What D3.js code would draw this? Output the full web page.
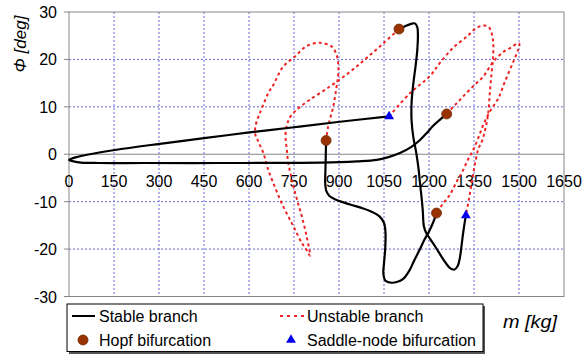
<!DOCTYPE html>
<html>
<head>
<meta charset="utf-8">
<script src="https://cdn.jsdelivr.net/npm/d3@7"></script>
<style>
  html, body { margin: 0; padding: 0; background: #fff; }
  svg { display: block; font-family: "Liberation Sans", Arial, sans-serif; }
</style>
</head>
<body>
<svg id="chart" width="584" height="356"></svg>
<script>
// Tick values
const xTicks = [0, 150, 300, 450, 600, 750, 900, 1050, 1200, 1350, 1500, 1650];
const yTicks = [-30, -20, -10, 0, 10, 20, 30];

// Stable branches [m, phi]
const stableNose = [
  [1259, 8.5], [1235, 7.2], [1214, 6.0], [1190, 4.3], [1170, 3.0], [1140, 1.5],
  [1103, 0.25], [1065, -0.6], [1026, -1.2], [960, -1.5], [903, -1.65], [750, -1.8],
  [500, -1.85], [250, -1.85], [100, -1.85], [40, -1.75], [15, -1.5], [0, -1.2],
  [8, -0.95], [25, -0.6], [60, -0.1], [153, 0.9], [303, 2.2], [450, 3.4],
  [601, 4.6], [750, 5.7], [903, 6.85], [1067, 8.0]
];
const stableLower = [
  [857, 2.9], [856, 0], [855, -3], [854, -6], [858, -7.8], [868, -8.8], [890, -9.6],
  [937, -10.6], [975, -11.3], [1005, -12], [1035, -13.1], [1050, -14.5], [1055, -16.5],
  [1054, -20], [1050, -23], [1048, -25.2], [1055, -26.7], [1075, -27.1], [1095, -26.9],
  [1114, -26.3], [1135, -24.5], [1150, -22.5], [1170, -20], [1185, -18], [1200, -16.3],
  [1213, -14.5], [1225, -12.4]
];
const stableUpper = [
  [1100, 26.4], [1120, 27.0], [1140, 27.5], [1153, 27.6], [1161, 26.8], [1163, 25.2],
  [1161, 22], [1155, 18.5], [1148, 15], [1142, 11], [1142, 7], [1148, 3.5],
  [1157, 0.5], [1165, -3], [1170, -6.1], [1175, -9], [1179, -11.7], [1183, -15.2],
  [1190, -16.5], [1200, -17.5], [1220, -19.4], [1248, -22.2], [1270, -24], [1285, -24.3],
  [1296, -23.5], [1303, -21.8], [1309, -19], [1314, -16.5], [1320, -14], [1323, -12.9]
];

// Unstable branches [m, phi]
const unstableLeft = [
  [1100, 26.4], [1048, 23.4], [992, 20.3], [937, 17.4], [870, 14.3], [803, 11.5],
  [759, 9.4], [735, 7.6], [724, 5.5], [722, 3.5], [726, 1], [731, -1.9], [740, -4.5],
  [748, -6.8], [762, -10], [776, -13.1], [792, -17.3], [803, -21.4], [790, -20],
  [776, -18.7], [748, -15.2], [714, -11], [681, -6.1], [660, -2.5], [648, 0.25],
  [630, 2.8], [620, 4.5], [625, 6.8], [635, 8.5], [648, 10.5], [665, 13], [681, 14.6],
  [714, 18.5], [753, 20.6], [792, 22.8], [837, 23.5], [876, 22.7], [892, 20.9],
  [898, 18.5], [896, 16], [892, 14.3], [881, 10.1], [864, 5.9], [857, 2.9]
];
const unstableSaddle = [
  [1067, 8.0], [1137, 12.9], [1203, 16.5], [1237, 19.3], [1281, 22.5], [1326, 24.8],
  [1353, 26.4], [1376, 27.1], [1398, 26.9], [1409, 25.5], [1414, 23.7], [1414, 20.9],
  [1409, 17.4], [1403, 13.2], [1398, 9], [1390, 6], [1378, 3], [1364, 1.0],
  [1352, -2.5], [1342, -6.1], [1333, -9.5], [1323, -12.9]
];
const unstableRight = [
  [1259, 8.5], [1287, 10.4], [1314, 12.2], [1350, 14.5], [1381, 16.4], [1414, 19.5],
  [1448, 21.6], [1476, 22.6], [1495, 23.4], [1501, 23.3], [1498, 22.2], [1481, 19.5],
  [1453, 15.3], [1431, 11.8], [1403, 9], [1381, 6.2], [1364, 3.4], [1348, 1],
  [1331, -1], [1310, -3.8], [1292, -5.8], [1270, -8.5], [1248, -10.3], [1225, -12.4]
];

// Bifurcation points
const hopfPoints = [[1100, 26.4], [857, 2.9], [1259, 8.5], [1225, -12.4]];
const saddlePoints = [[1067, 8.0], [1323, -12.9]];

// Text
const xTitle = "m [kg]";
const yTitle = "\u03A6  [deg]";
const legendItems = ["Stable branch", "Unstable branch", "Hopf bifurcation", "Saddle-node bifurcation"];

const svg = d3.select("#chart");
const plotLeft = 69, plotRight = 564, plotTop = 12, plotBottom = 296.5;

const x = d3.scaleLinear().domain([0, 1650]).range([plotLeft, plotRight]);
const y = d3.scaleLinear().domain([-30, 30]).range([plotBottom, plotTop]);

const gridColor = "#6c6cd8";
const axisColor = "#858585";

// Grid
const grid = svg.append("g");
grid.selectAll("line.vx")
  .data(xTicks.filter(d => d > 0 && d < 1650))
  .join("line")
  .attr("x1", d => x(d)).attr("x2", d => x(d))
  .attr("y1", plotTop).attr("y2", plotBottom)
  .attr("stroke", gridColor).attr("stroke-width", 1)
  .attr("stroke-dasharray", "2,2");
grid.selectAll("line.hy")
  .data(yTicks.filter(d => d !== 0 && d > -30 && d < 30))
  .join("line")
  .attr("x1", plotLeft).attr("x2", plotRight)
  .attr("y1", d => y(d)).attr("y2", d => y(d))
  .attr("stroke", gridColor).attr("stroke-width", 1)
  .attr("stroke-dasharray", "2,2");

// Frame and zero line
svg.append("rect")
  .attr("x", plotLeft).attr("y", plotTop)
  .attr("width", plotRight - plotLeft).attr("height", plotBottom - plotTop)
  .attr("fill", "none").attr("stroke", axisColor).attr("stroke-width", 1);
svg.append("line")
  .attr("x1", plotLeft).attr("x2", plotRight)
  .attr("y1", y(0)).attr("y2", y(0))
  .attr("stroke", axisColor).attr("stroke-width", 1);

// Y axis ticks and labels
const yAxis = svg.append("g");
yAxis.selectAll("line")
  .data(yTicks)
  .join("line")
  .attr("x1", plotLeft - 5).attr("x2", plotLeft)
  .attr("y1", d => y(d)).attr("y2", d => y(d))
  .attr("stroke", axisColor);
yAxis.selectAll("text")
  .data(yTicks)
  .join("text")
  .attr("x", 57)
  .attr("y", d => y(d) + 6)
  .attr("text-anchor", "end")
  .attr("font-size", 16)
  .text(d => d);

// X labels
svg.append("g").selectAll("text")
  .data(xTicks)
  .join("text")
  .attr("x", d => x(d))
  .attr("y", 187)
  .attr("text-anchor", "middle")
  .attr("font-size", 16)
  .text(d => d);

// Axis titles
svg.append("text")
  .attr("transform", "translate(26,44) rotate(-90)")
  .attr("text-anchor", "middle")
  .attr("font-size", 17)
  .attr("font-style", "italic")
  .text(yTitle);
svg.append("text")
  .attr("x", 503).attr("y", 328)
  .attr("font-size", 18)
  .attr("font-style", "italic")
  .attr("textLength", 54)
  .attr("lengthAdjust", "spacingAndGlyphs")
  .text(xTitle);

// Curves
const line = d3.line()
  .x(d => x(d[0])).y(d => y(d[1]))
  .curve(d3.curveCatmullRom.alpha(0.5));

const curves = svg.append("g");
[unstableLeft, unstableSaddle, unstableRight].forEach(pts => {
  curves.append("path")
    .attr("d", line(pts))
    .attr("fill", "none")
    .attr("stroke", "#ee2222")
    .attr("stroke-width", 2)
    .attr("stroke-dasharray", "3,3");
});
[stableNose, stableLower, stableUpper].forEach(pts => {
  curves.append("path")
    .attr("d", line(pts))
    .attr("fill", "none")
    .attr("stroke", "#000")
    .attr("stroke-width", 2.2)
    .attr("stroke-linejoin", "round");
});

// Markers
svg.append("g").selectAll("circle")
  .data(hopfPoints)
  .join("circle")
  .attr("cx", d => x(d[0])).attr("cy", d => y(d[1]))
  .attr("r", 5)
  .attr("fill", "#993300")
  .attr("stroke", "#6e2a06").attr("stroke-width", 0.8);

const tri = d3.symbol().type(d3.symbolTriangle).size(42);
svg.append("g").selectAll("path")
  .data(saddlePoints)
  .join("path")
  .attr("d", tri)
  .attr("transform", d => `translate(${x(d[0])},${y(d[1])})`)
  .attr("fill", "#0000ee");

// Legend
const lg = svg.append("g");
lg.append("rect")
  .attr("x", 69).attr("y", 306).attr("width", 416).attr("height", 48)
  .attr("fill", "#555");
lg.append("rect")
  .attr("x", 67).attr("y", 304).attr("width", 416).attr("height", 47.5)
  .attr("fill", "#fff").attr("stroke", "#000").attr("stroke-width", 1);

lg.append("line")
  .attr("x1", 72).attr("x2", 95).attr("y1", 316).attr("y2", 316)
  .attr("stroke", "#000").attr("stroke-width", 2);
lg.append("line")
  .attr("x1", 280).attr("x2", 304).attr("y1", 316).attr("y2", 316)
  .attr("stroke", "#ee2222").attr("stroke-width", 2).attr("stroke-dasharray", "3,4");
lg.append("circle")
  .attr("cx", 83).attr("cy", 340).attr("r", 5)
  .attr("fill", "#993300").attr("stroke", "#6e2a06").attr("stroke-width", 0.8);
lg.append("path")
  .attr("d", tri)
  .attr("transform", "translate(291,340)")
  .attr("fill", "#0000ee");

const legendPos = [[99, 322], [307, 322], [99, 346], [307, 346]];
lg.selectAll("text")
  .data(legendItems)
  .join("text")
  .attr("x", (d, i) => legendPos[i][0])
  .attr("y", (d, i) => legendPos[i][1])
  .attr("font-size", 16)
  .text(d => d);
</script>
</body>
</html>
